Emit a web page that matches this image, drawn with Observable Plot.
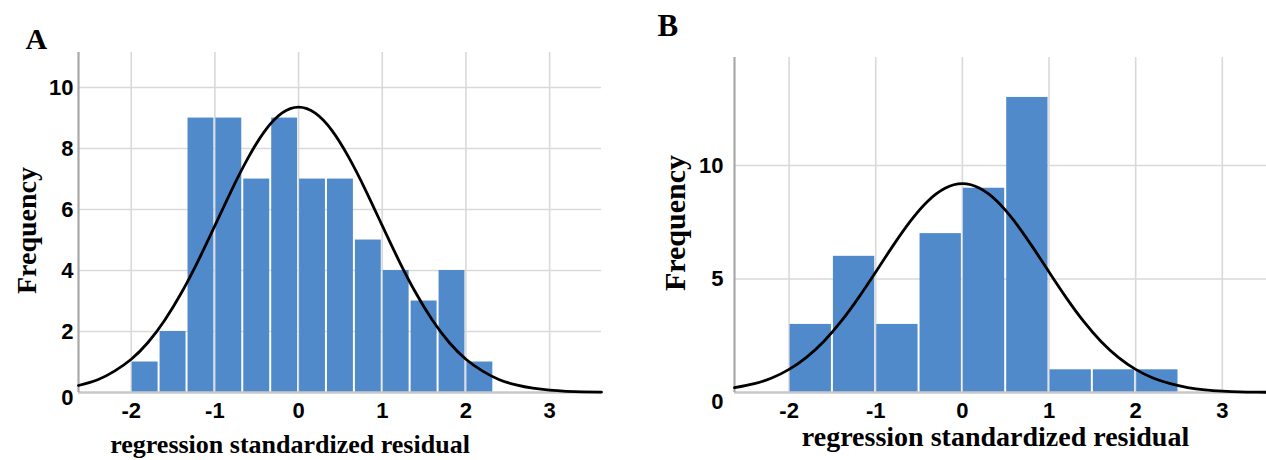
<!DOCTYPE html>
<html>
<head>
<meta charset="utf-8">
<script src="https://cdn.jsdelivr.net/npm/d3@7"></script>
<script src="https://cdn.jsdelivr.net/npm/@observablehq/plot@0.6"></script>
<style>
  html, body { margin: 0; padding: 0; background: #fff; color: #000; }
  #wrap { display: flex; width: 1266px; height: 460px; overflow: hidden; }
  #wrap svg { display: block; }
</style>
</head>
<body>
<div id="wrap"></div>
<script>
// ---- Panel A data ----
const binEdgesA = [-2, -1.667, -1.333, -1, -0.667, -0.333, 0, 0.333, 0.667, 1, 1.333, 1.667, 2, 2.333];
const countsA = [1, 2, 9, 9, 7, 9, 7, 7, 5, 4, 3, 4, 1];
const curveXA = [-2.63, -2.4, -2.2, -2.0, -1.8, -1.6, -1.4, -1.2, -1.0, -0.8, -0.6, -0.4, -0.2, 0, 0.2, 0.4, 0.6, 0.8, 1.0, 1.2, 1.4, 1.6, 1.8, 2.0, 2.2, 2.4, 2.6, 2.8, 3.0, 3.2, 3.4, 3.62];
const curveYA = [0.23, 0.42, 0.70, 1.09, 1.64, 2.37, 3.27, 4.32, 5.47, 6.64, 7.71, 8.59, 9.16, 9.36, 9.16, 8.59, 7.71, 6.64, 5.47, 4.32, 3.27, 2.37, 1.64, 1.09, 0.70, 0.42, 0.25, 0.14, 0.075, 0.04, 0.02, 0.01];
const xTicksA = [-2, -1, 0, 1, 2, 3];
const yTicksA = [0, 2, 4, 6, 8, 10];

// ---- Panel B data ----
const binEdgesB = [-2, -1.5, -1, -0.5, 0, 0.5, 1, 1.5, 2, 2.5];
const countsB = [3, 6, 3, 7, 9, 13, 1, 1, 1];
const curveXB = [-2.63, -2.4, -2.2, -2.0, -1.8, -1.6, -1.4, -1.2, -1.0, -0.8, -0.6, -0.4, -0.2, 0, 0.2, 0.4, 0.6, 0.8, 1.0, 1.2, 1.4, 1.6, 1.8, 2.0, 2.2, 2.4, 2.6, 2.8, 3.0, 3.2, 3.4, 3.51];
const curveYB = [0.21, 0.39, 0.64, 1.02, 1.55, 2.25, 3.13, 4.17, 5.31, 6.47, 7.55, 8.43, 9.00, 9.2, 9.00, 8.43, 7.55, 6.47, 5.31, 4.17, 3.13, 2.25, 1.55, 1.02, 0.64, 0.39, 0.22, 0.12, 0.065, 0.03, 0.016, 0.011];
const xTicksB = [-2, -1, 0, 1, 2, 3];
const yTicksB = [0, 5, 10];

const xLabel = "regression standardized residual";
const yLabel = "Frequency";

const BLUE = "#518acb";
const GRID = "#d9d9d9";
const SANS = "Liberation Sans, Arial, sans-serif";
const SERIF = "Liberation Serif, Times New Roman, serif";

function panel(cfg) {
  const bins = cfg.counts.map((c, i) => ({lo: cfg.edges[i], hi: cfg.edges[i + 1], count: c}));
  const curve = cfg.cx.map((x, i) => ({x, y: cfg.cy[i]}));
  const tickFont = {fontSize: 22, fontWeight: "bold", fontFamily: SANS, label: null, tickFormat: d => String(d), fill: "#000"};
  return Plot.plot({
    width: cfg.width, height: 460,
    marginLeft: cfg.ml, marginRight: cfg.mr, marginTop: cfg.mt, marginBottom: cfg.mb,
    x: {domain: cfg.xdom},
    y: {domain: cfg.ydom},
    style: {background: "white", overflow: "visible"},
    marks: [
      Plot.gridX(cfg.xt, {stroke: GRID, strokeOpacity: 1, strokeWidth: 1.6}),
      Plot.gridY(cfg.yt.filter(d => d > 0), {stroke: GRID, strokeOpacity: 1, strokeWidth: 1.6}),
      Plot.rectY(bins, {x1: "lo", x2: "hi", y1: 0, y2: "count", fill: BLUE, insetLeft: 1, insetRight: 1}),
      Plot.ruleY([0], {stroke: "#c8c8c8", strokeWidth: 2.5}),
      Plot.ruleX([cfg.xdom[0]], {stroke: "#a8a8a8", strokeWidth: 2.2}),
      Plot.line(curve, {x: "x", y: "y", curve: "natural", stroke: "#000", strokeWidth: 2.8}),
      Plot.axisX(cfg.xt, {tickSize: 0, tickPadding: 10, ...tickFont}),
      Plot.axisY(cfg.yt.filter(d => d > 0), {tickSize: 0, tickPadding: cfg.ypad, ...tickFont}),
      Plot.axisY([0], {tickSize: 0, tickPadding: cfg.ypad, dy: cfg.zeroDy, ...tickFont}),
      Plot.text([cfg.letter], {text: d => d, frameAnchor: "top-left", textAnchor: "start", lineAnchor: "bottom", dx: cfg.letterDx, dy: cfg.letterDy, fontSize: cfg.letterSize, fontWeight: "bold", fontFamily: SERIF, fill: "#000"}),
      Plot.text([yLabel], {text: d => d, frameAnchor: "left", textAnchor: "middle", lineAnchor: "middle", rotate: -90, dx: cfg.ylDx, dy: cfg.ylDy, fontSize: cfg.ylSize, fontWeight: "bold", fontFamily: SERIF, fill: "#000"}),
      Plot.text([xLabel], {text: d => d, frameAnchor: "bottom", textAnchor: "middle", lineAnchor: "middle", dx: cfg.xlDx, dy: cfg.xlDy, fontSize: cfg.xlSize, fontWeight: "bold", fontFamily: SERIF, fill: "#000"})
    ]
  });
}

const wrap = document.getElementById("wrap");
wrap.append(panel({
  width: 640, ml: 78, mr: 39, mt: 52, mb: 68,
  xdom: [-2.63, 3.62], ydom: [0, 11.15],
  edges: binEdgesA, counts: countsA, cx: curveXA, cy: curveYA,
  xt: xTicksA, yt: yTicksA, ypad: 5, zeroDy: 5,
  letter: "A", letterDx: -53, letterDy: -4, letterSize: 30,
  ylDx: -51, ylDy: 8, ylSize: 28,
  xlDx: -50, xlDy: 52, xlSize: 26
}));
wrap.append(panel({
  width: 626, ml: 94, mr: 0, mt: 57, mb: 68,
  xdom: [-2.63, 3.51], ydom: [0, 14.76],
  edges: binEdgesB, counts: countsB, cx: curveXB, cy: curveYB,
  xt: xTicksB, yt: yTicksB, ypad: 11, zeroDy: 9,
  letter: "B", letterDx: -77, letterDy: -22, letterSize: 31,
  ylDx: -59, ylDy: -2, ylSize: 30,
  xlDx: -5, xlDy: 45, xlSize: 28
}));
</script>
</body>
</html>
